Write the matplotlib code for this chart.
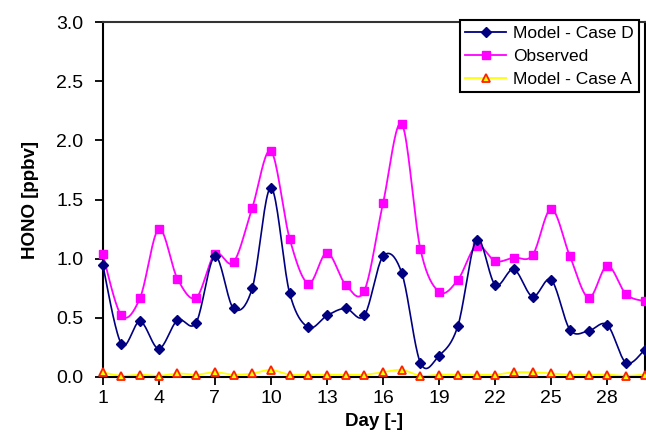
import numpy as np
import matplotlib
matplotlib.use("Agg")
import matplotlib.pyplot as plt

plt.rcParams['font.family'] = ['Liberation Sans', 'DejaVu Sans']

days = np.arange(1, 31)
model_d = [0.95, 0.28, 0.47, 0.24, 0.48, 0.46, 1.02, 0.58, 0.75, 1.60,
           0.71, 0.42, 0.52, 0.58, 0.52, 1.02, 0.88, 0.12, 0.18, 0.43,
           1.16, 0.78, 0.91, 0.68, 0.82, 0.40, 0.39, 0.44, 0.12, 0.23]
observed = [1.04, 0.52, 0.67, 1.25, 0.83, 0.67, 1.04, 0.97, 1.43, 1.91,
            1.17, 0.79, 1.05, 0.78, 0.73, 1.47, 2.14, 1.08, 0.72, 0.82,
            1.11, 0.98, 1.01, 1.03, 1.42, 1.02, 0.67, 0.94, 0.70, 0.64]
model_a = [0.04, 0.01, 0.02, 0.01, 0.03, 0.02, 0.04, 0.02, 0.03, 0.06,
           0.02, 0.02, 0.02, 0.02, 0.02, 0.04, 0.06, 0.01, 0.02, 0.02,
           0.02, 0.02, 0.04, 0.04, 0.03, 0.02, 0.02, 0.02, 0.01, 0.02]
xticks = [1, 4, 7, 10, 13, 16, 19, 22, 25, 28]


def smooth(x, y, n=20):
    # excel-like smoothed line (catmull-rom through the points)
    x = np.asarray(x, float)
    y = np.asarray(y, float)
    px = np.concatenate([[x[0]], x, [x[-1]]])
    py = np.concatenate([[y[0]], y, [y[-1]]])
    xs, ys = [], []
    t = np.linspace(0, 1, n, endpoint=False)
    for i in range(1, len(px) - 2):
        p0, p1, p2, p3 = py[i - 1], py[i], py[i + 1], py[i + 2]
        q0, q1, q2, q3 = px[i - 1], px[i], px[i + 1], px[i + 2]
        for a, b, c, d, out in ((q0, q1, q2, q3, xs), (p0, p1, p2, p3, ys)):
            out.extend(0.5 * (2 * b + (-a + c) * t + (2 * a - 5 * b + 4 * c - d) * t ** 2
                              + (-a + 3 * b - 3 * c + d) * t ** 3))
    xs.append(x[-1])
    ys.append(y[-1])
    return np.array(xs), np.array(ys)


fig = plt.figure(figsize=(6.46, 4.43), dpi=100)
ax = fig.add_axes([0.159, 0.149, 0.839, 0.801])

navy = '#000080'
mag = '#ff00ff'

sx, sy = smooth(days, model_a)
ax.plot(sx, sy, color='#ffff00', lw=1.3, zorder=2)
ax.plot(days, model_a, ls='none', marker='^', ms=6, mfc='#ffff00', mec='#ff2000',
        mew=1.3, zorder=3, clip_on=False)
sx, sy = smooth(days, observed)
ax.plot(sx, sy, color=mag, lw=1.3, zorder=4)
ax.plot(days, observed, ls='none', marker='s', ms=5.5, color=mag, zorder=5, clip_on=False)
sx, sy = smooth(days, model_d)
ax.plot(sx, sy, color=navy, lw=1.2, zorder=6)
ax.plot(days, model_d, ls='none', marker='D', ms=5, color=navy, zorder=7, clip_on=False)

# legend proxies
h1, = ax.plot([], [], color=navy, lw=1.3, marker='D', ms=5)
h2, = ax.plot([], [], color=mag, lw=1.3, marker='s', ms=5.5)
h3, = ax.plot([], [], color='#ffff00', lw=1.3, marker='^', ms=6, mfc='#ffff00', mec='#ff2000', mew=1.3)
leg = ax.legend([h1, h2, h3], ['Model - Case D', 'Observed', 'Model - Case A'],
                loc='upper right', bbox_to_anchor=(0.99, 1.005), fontsize=12.5,
                fancybox=False, framealpha=1, edgecolor='black', borderpad=0.3,
                handlelength=2.4, handletextpad=0.4, labelspacing=0.45, borderaxespad=0)
leg.get_frame().set_linewidth(1.5)

ax.set_xlim(1, 30)
ax.set_ylim(0, 3.0)
ax.set_xticks(xticks)
ax.set_yticks(np.arange(0, 3.01, 0.5))
ax.set_yticklabels(['%.1f' % v for v in np.arange(0, 3.01, 0.5)])
ax.tick_params(labelsize=14, width=1.3, length=6, direction='out')
ax.tick_params(axis='y', pad=8)
for s in ax.spines.values():
    s.set_linewidth(1.5)
ax.spines['top'].set_color('#333333')
ax.set_xlabel('Day [-]', fontsize=13.5, fontweight='bold', labelpad=4)
ax.set_ylabel('HONO [ppbv]', fontsize=13.5, fontweight='bold', labelpad=12)

fig.savefig('out.png', dpi=100)
